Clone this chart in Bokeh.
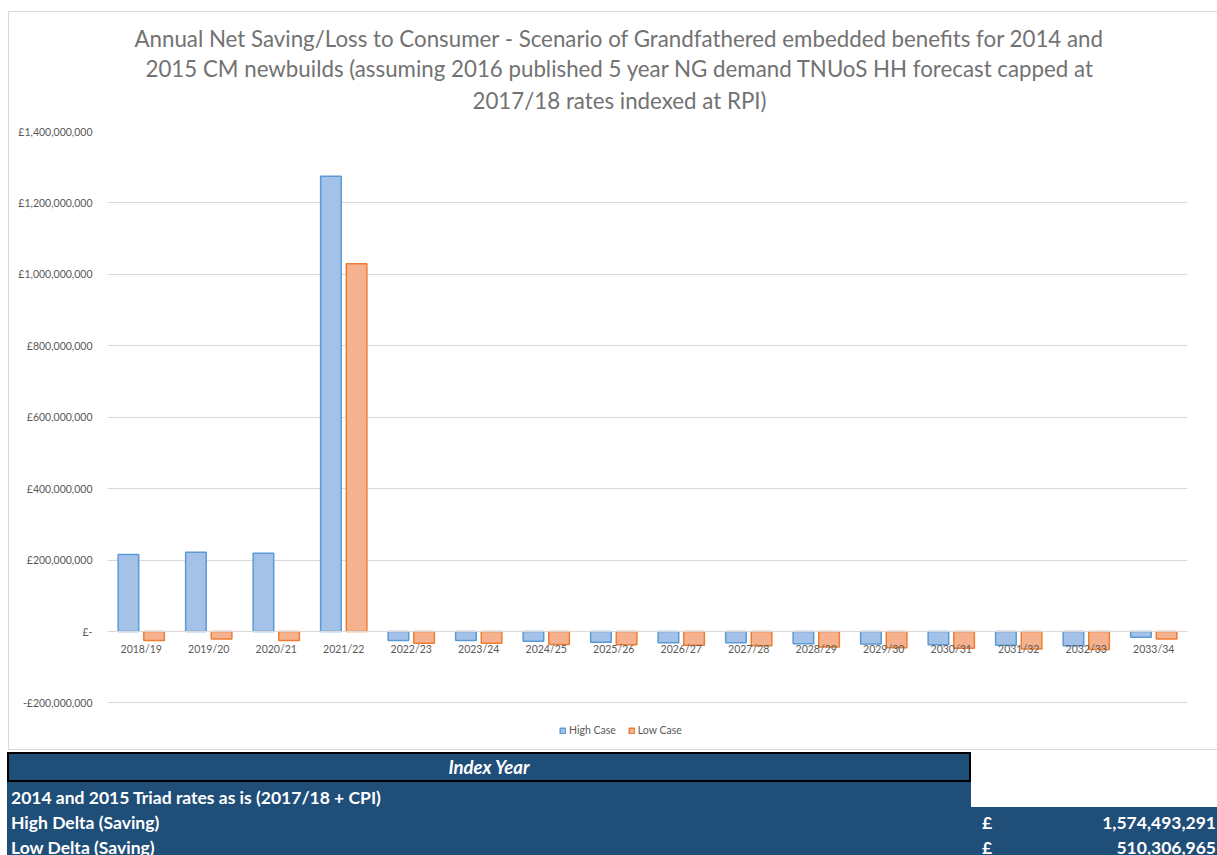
from bokeh.plotting import figure
from bokeh.models import (FactorRange, Range1d, FixedTicker, Title, Legend, LegendItem,
                          Div, ColumnDataSource)
from bokeh.transform import dodge
from bokeh.layouts import column
from bokeh.embed import file_html
from bokeh.resources import INLINE

# ---------------- data ----------------
categories = ["2018/19", "2019/20", "2020/21", "2021/22", "2022/23", "2023/24", "2024/25",
              "2025/26", "2026/27", "2027/28", "2028/29", "2029/30", "2030/31", "2031/32",
              "2032/33", "2033/34"]
high_case = [216e6, 222e6, 219e6, 1275e6, -25e6, -25e6, -27e6, -30e6, -31e6, -31e6,
             -34e6, -35e6, -37e6, -38e6, -40e6, -16e6]
low_case = [-25e6, -21e6, -25e6, 1030e6, -33e6, -33e6, -36e6, -37e6, -38e6, -40e6,
            -43e6, -45e6, -47e6, -49e6, -50e6, -21e6]
series_names = ["High Case", "Low Case"]

y_ticks = [-200000000, 0, 200000000, 400000000, 600000000, 800000000, 1000000000,
           1200000000, 1400000000]
y_tick_labels = ["-£200,000,000", "£-", "£200,000,000", "£400,000,000", "£600,000,000",
                 "£800,000,000", "£1,000,000,000", "£1,200,000,000", "£1,400,000,000"]

title_lines = [
    "Annual Net Saving/Loss to Consumer - Scenario of Grandfathered embedded benefits for 2014 and",
    "2015 CM newbuilds (assuming 2016 published 5 year NG demand TNUoS HH forecast capped at",
    "2017/18 rates indexed at RPI)",
]

table_header = "Index Year"
table_labels = ["2014 and 2015 Triad rates as is (2017/18 + CPI)", "High Delta (Saving)",
                "Low Delta (Saving)"]
table_currency = ["", "£", "£"]
table_values = ["", "1,574,493,291", "510,306,965"]

# ---------------- styles ----------------
FONT = "Lato"
GRAY = "#595959"
BLUE_FILL, BLUE_LINE = "#a4c2e7", "#5b9bd5"
ORANGE_FILL, ORANGE_LINE = "#f6b28f", "#ed7d31"
TABLE_BG = "#1f4e79"
Y_BOTTOM = -333e6   # room under the -200M gridline for the legend
W, H = 1217, 750

src = ColumnDataSource(dict(cat=categories, high=high_case, low=low_case))

p = figure(x_range=FactorRange(*categories), y_range=Range1d(Y_BOTTOM, y_ticks[-1]),
           width=W, height=H, output_backend="svg", toolbar_location=None,
           min_border_left=107, min_border_right=30, min_border_top=131,
           min_border_bottom=0, title=None)
p.outline_line_color = None
p.background_fill_color = None
p.border_fill_color = None
g = "linear-gradient(#d9d9d9,#d9d9d9)"
p.styles = {"background": "%s 8px 11px / 1px 739px no-repeat, %s 8px 11px / 1209px 1px no-repeat, "
                          "%s 8px 749px / 1209px 1px no-repeat, white" % (g, g, g)}

r1 = p.vbar(x=dodge("cat", -0.19, range=p.x_range), top="high", bottom=0, width=0.305,
            source=src, fill_color=BLUE_FILL, line_color=BLUE_LINE, line_width=1.5)
r2 = p.vbar(x=dodge("cat", 0.19, range=p.x_range), top="low", bottom=0, width=0.305,
            source=src, fill_color=ORANGE_FILL, line_color=ORANGE_LINE, line_width=1.5)

# y axis
p.yaxis.ticker = FixedTicker(ticks=y_ticks)
p.yaxis.major_label_overrides = dict(zip(y_ticks, y_tick_labels))
p.yaxis.axis_line_color = None
p.yaxis.major_tick_line_color = None
p.yaxis.minor_tick_line_color = None
p.yaxis.major_label_text_font = FONT
p.yaxis.major_label_text_font_size = "10.5px"
p.yaxis.major_label_text_color = GRAY
p.yaxis.major_label_standoff = 9
p.ygrid.grid_line_color = "#d9d9d9"
p.ygrid.grid_line_width = 1
p.xgrid.grid_line_color = None

# x axis at zero
p.xaxis.fixed_location = 0
p.xaxis.axis_line_color = "#d9d9d9"
p.xaxis.axis_line_width = 1
p.xaxis.major_tick_line_color = None
p.xaxis.minor_tick_line_color = None
p.xaxis.major_label_text_font = FONT
p.xaxis.major_label_text_font_size = "10.5px"
p.xaxis.major_label_text_color = GRAY
p.xaxis.major_label_standoff = 5

# title lines, added from the frame upwards
title_offsets = [27, 38, 365]
title_standoffs = [31, -29, 35]
for txt, off, so in reversed(list(zip(title_lines, title_offsets, title_standoffs))):
    p.add_layout(Title(text=txt, align="left", offset=off, standoff=so, text_font=FONT,
                       text_font_size="22.3px", text_color="#727272",
                       text_font_style="normal"), "above")

legend = Legend(items=[LegendItem(label=series_names[0], renderers=[r1]),
                       LegendItem(label=series_names[1], renderers=[r2])],
                orientation="horizontal", location=(452, 14),
                label_text_font=FONT, label_text_font_size="10.5px", label_text_color=GRAY,
                glyph_width=7, glyph_height=7, label_standoff=3, spacing=12,
                padding=4, margin=0, border_line_color=None, background_fill_alpha=0,
                label_height=12)
p.add_layout(legend, "center")

# ---------------- table below the chart ----------------
cell = ("position:absolute;box-sizing:border-box;background:%s;color:white;"
        "font-family:Lato;font-weight:bold;font-size:17.5px;white-space:nowrap;overflow:hidden;"
        % TABLE_BG)
html = ['<div style="position:relative;width:%dpx;height:105px;overflow:hidden;background:white;">' % W]
html.append('<div style="%sleft:7px;top:2px;width:964px;height:30px;border:2px solid black;'
            'text-align:center;line-height:26px;font-style:italic;font-size:18.5px;">%s</div>'
            % (cell, table_header))
tops = [32, 57, 82]
widths = [964, W - 7, W - 7]
for lab, cur, val, top, w in zip(table_labels, table_currency, table_values, tops, widths):
    html.append('<div style="%sleft:7px;top:%dpx;width:%dpx;height:25px;line-height:31px;'
                'padding-left:4px;">%s' % (cell, top, w, lab))
    if cur:
        html.append('<span style="position:absolute;left:975px;top:0;">%s</span>' % cur)
        html.append('<span style="position:absolute;right:1px;top:0;">%s</span>' % val)
    html.append('</div>')
html.append('</div>')
table = Div(text="".join(html), width=W, height=105, margin=0)

layout = column(p, table, spacing=0)
open("out.html", "w").write(file_html(layout, INLINE))
